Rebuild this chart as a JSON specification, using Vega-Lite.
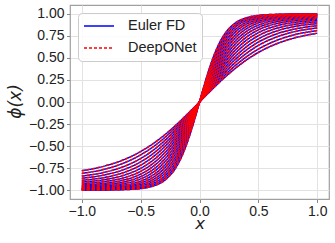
{
  "$schema": "https://vega.github.io/schema/vega-lite/v6.json",
  "width": 259,
  "height": 194,
  "autosize": {"type": "none"},
  "padding": {"left": 70, "top": 5, "right": 6, "bottom": 44},
  "background": "white",
  "config": {
    "view": {"stroke": "#a0a0a0", "strokeWidth": 1.2},
    "axis": {
      "domain": false,
      "grid": true,
      "gridColor": "#e2e2e2",
      "gridWidth": 1,
      "tickColor": "#888",
      "tickSize": 3.5,
      "labelFont": "Liberation Sans",
      "labelFontSize": 14,
      "labelColor": "#222",
      "titleFont": "DejaVu Sans",
      "titleFontStyle": "italic",
      "titleFontWeight": "normal",
      "titleFontSize": 17,
      "titleColor": "#222"
    },
    "legend": {
      "labelFont": "Liberation Sans",
      "labelFontSize": 14.5,
      "labelColor": "#222"
    }
  },
  "data": {"values": [
    {"c":0,"x":-1,"y":-0.78},{"c":0,"x":-0.8,"y":-0.724},{"c":0,"x":-0.65,"y":-0.658},{"c":0,"x":-0.5,"y":-0.562},{"c":0,"x":-0.4,"y":-0.478},{"c":0,"x":-0.3,"y":-0.377},{"c":0,"x":-0.2,"y":-0.262},{"c":0,"x":-0.15,"y":-0.199},{"c":0,"x":-0.1,"y":-0.134},{"c":0,"x":-0.05,"y":-0.068},{"c":0,"x":0,"y":0},{"c":0,"x":0.05,"y":0.068},{"c":0,"x":0.1,"y":0.134},{"c":0,"x":0.15,"y":0.199},{"c":0,"x":0.2,"y":0.262},{"c":0,"x":0.3,"y":0.377},{"c":0,"x":0.4,"y":0.478},{"c":0,"x":0.5,"y":0.562},{"c":0,"x":0.65,"y":0.658},{"c":0,"x":0.8,"y":0.724},{"c":0,"x":1,"y":0.78},
    {"c":1,"x":-1,"y":-0.81},{"c":1,"x":-0.8,"y":-0.76},{"c":1,"x":-0.65,"y":-0.696},{"c":1,"x":-0.5,"y":-0.6},{"c":1,"x":-0.4,"y":-0.514},{"c":1,"x":-0.3,"y":-0.409},{"c":1,"x":-0.2,"y":-0.285},{"c":1,"x":-0.15,"y":-0.217},{"c":1,"x":-0.1,"y":-0.147},{"c":1,"x":-0.05,"y":-0.074},{"c":1,"x":0,"y":0},{"c":1,"x":0.05,"y":0.074},{"c":1,"x":0.1,"y":0.147},{"c":1,"x":0.15,"y":0.217},{"c":1,"x":0.2,"y":0.285},{"c":1,"x":0.3,"y":0.409},{"c":1,"x":0.4,"y":0.514},{"c":1,"x":0.5,"y":0.6},{"c":1,"x":0.65,"y":0.696},{"c":1,"x":0.8,"y":0.76},{"c":1,"x":1,"y":0.81},
    {"c":2,"x":-1,"y":-0.84},{"c":2,"x":-0.8,"y":-0.795},{"c":2,"x":-0.65,"y":-0.735},{"c":2,"x":-0.5,"y":-0.641},{"c":2,"x":-0.4,"y":-0.553},{"c":2,"x":-0.3,"y":-0.443},{"c":2,"x":-0.2,"y":-0.311},{"c":2,"x":-0.15,"y":-0.237},{"c":2,"x":-0.1,"y":-0.161},{"c":2,"x":-0.05,"y":-0.081},{"c":2,"x":0,"y":0},{"c":2,"x":0.05,"y":0.081},{"c":2,"x":0.1,"y":0.161},{"c":2,"x":0.15,"y":0.237},{"c":2,"x":0.2,"y":0.311},{"c":2,"x":0.3,"y":0.443},{"c":2,"x":0.4,"y":0.553},{"c":2,"x":0.5,"y":0.641},{"c":2,"x":0.65,"y":0.735},{"c":2,"x":0.8,"y":0.795},{"c":2,"x":1,"y":0.84},
    {"c":3,"x":-1,"y":-0.865},{"c":3,"x":-0.8,"y":-0.825},{"c":3,"x":-0.65,"y":-0.77},{"c":3,"x":-0.5,"y":-0.679},{"c":3,"x":-0.4,"y":-0.591},{"c":3,"x":-0.3,"y":-0.477},{"c":3,"x":-0.2,"y":-0.337},{"c":3,"x":-0.15,"y":-0.258},{"c":3,"x":-0.1,"y":-0.175},{"c":3,"x":-0.05,"y":-0.088},{"c":3,"x":0,"y":0},{"c":3,"x":0.05,"y":0.088},{"c":3,"x":0.1,"y":0.175},{"c":3,"x":0.15,"y":0.258},{"c":3,"x":0.2,"y":0.337},{"c":3,"x":0.3,"y":0.477},{"c":3,"x":0.4,"y":0.591},{"c":3,"x":0.5,"y":0.679},{"c":3,"x":0.65,"y":0.77},{"c":3,"x":0.8,"y":0.825},{"c":3,"x":1,"y":0.865},
    {"c":4,"x":-1,"y":-0.888},{"c":4,"x":-0.8,"y":-0.854},{"c":4,"x":-0.65,"y":-0.803},{"c":4,"x":-0.5,"y":-0.716},{"c":4,"x":-0.4,"y":-0.628},{"c":4,"x":-0.3,"y":-0.511},{"c":4,"x":-0.2,"y":-0.364},{"c":4,"x":-0.15,"y":-0.28},{"c":4,"x":-0.1,"y":-0.19},{"c":4,"x":-0.05,"y":-0.096},{"c":4,"x":0,"y":0},{"c":4,"x":0.05,"y":0.096},{"c":4,"x":0.1,"y":0.19},{"c":4,"x":0.15,"y":0.28},{"c":4,"x":0.2,"y":0.364},{"c":4,"x":0.3,"y":0.511},{"c":4,"x":0.4,"y":0.628},{"c":4,"x":0.5,"y":0.716},{"c":4,"x":0.65,"y":0.803},{"c":4,"x":0.8,"y":0.854},{"c":4,"x":1,"y":0.888},
    {"c":5,"x":-1,"y":-0.908},{"c":5,"x":-0.8,"y":-0.879},{"c":5,"x":-0.65,"y":-0.834},{"c":5,"x":-0.5,"y":-0.752},{"c":5,"x":-0.4,"y":-0.666},{"c":5,"x":-0.3,"y":-0.547},{"c":5,"x":-0.2,"y":-0.393},{"c":5,"x":-0.15,"y":-0.303},{"c":5,"x":-0.1,"y":-0.206},{"c":5,"x":-0.05,"y":-0.104},{"c":5,"x":0,"y":0},{"c":5,"x":0.05,"y":0.104},{"c":5,"x":0.1,"y":0.206},{"c":5,"x":0.15,"y":0.303},{"c":5,"x":0.2,"y":0.393},{"c":5,"x":0.3,"y":0.547},{"c":5,"x":0.4,"y":0.666},{"c":5,"x":0.5,"y":0.752},{"c":5,"x":0.65,"y":0.834},{"c":5,"x":0.8,"y":0.879},{"c":5,"x":1,"y":0.908},
    {"c":6,"x":-1,"y":-0.925},{"c":6,"x":-0.8,"y":-0.901},{"c":6,"x":-0.65,"y":-0.862},{"c":6,"x":-0.5,"y":-0.786},{"c":6,"x":-0.4,"y":-0.702},{"c":6,"x":-0.3,"y":-0.582},{"c":6,"x":-0.2,"y":-0.422},{"c":6,"x":-0.15,"y":-0.326},{"c":6,"x":-0.1,"y":-0.223},{"c":6,"x":-0.05,"y":-0.113},{"c":6,"x":0,"y":0},{"c":6,"x":0.05,"y":0.113},{"c":6,"x":0.1,"y":0.223},{"c":6,"x":0.15,"y":0.326},{"c":6,"x":0.2,"y":0.422},{"c":6,"x":0.3,"y":0.582},{"c":6,"x":0.4,"y":0.702},{"c":6,"x":0.5,"y":0.786},{"c":6,"x":0.65,"y":0.862},{"c":6,"x":0.8,"y":0.901},{"c":6,"x":1,"y":0.925},
    {"c":7,"x":-1,"y":-0.94},{"c":7,"x":-0.8,"y":-0.921},{"c":7,"x":-0.65,"y":-0.887},{"c":7,"x":-0.5,"y":-0.818},{"c":7,"x":-0.4,"y":-0.737},{"c":7,"x":-0.3,"y":-0.618},{"c":7,"x":-0.2,"y":-0.452},{"c":7,"x":-0.15,"y":-0.351},{"c":7,"x":-0.1,"y":-0.241},{"c":7,"x":-0.05,"y":-0.122},{"c":7,"x":0,"y":0},{"c":7,"x":0.05,"y":0.122},{"c":7,"x":0.1,"y":0.241},{"c":7,"x":0.15,"y":0.351},{"c":7,"x":0.2,"y":0.452},{"c":7,"x":0.3,"y":0.618},{"c":7,"x":0.4,"y":0.737},{"c":7,"x":0.5,"y":0.818},{"c":7,"x":0.65,"y":0.887},{"c":7,"x":0.8,"y":0.921},{"c":7,"x":1,"y":0.94},
    {"c":8,"x":-1,"y":-0.952},{"c":8,"x":-0.8,"y":-0.937},{"c":8,"x":-0.65,"y":-0.909},{"c":8,"x":-0.5,"y":-0.846},{"c":8,"x":-0.4,"y":-0.771},{"c":8,"x":-0.3,"y":-0.654},{"c":8,"x":-0.2,"y":-0.483},{"c":8,"x":-0.15,"y":-0.377},{"c":8,"x":-0.1,"y":-0.259},{"c":8,"x":-0.05,"y":-0.132},{"c":8,"x":0,"y":0},{"c":8,"x":0.05,"y":0.132},{"c":8,"x":0.1,"y":0.259},{"c":8,"x":0.15,"y":0.377},{"c":8,"x":0.2,"y":0.483},{"c":8,"x":0.3,"y":0.654},{"c":8,"x":0.4,"y":0.771},{"c":8,"x":0.5,"y":0.846},{"c":8,"x":0.65,"y":0.909},{"c":8,"x":0.8,"y":0.937},{"c":8,"x":1,"y":0.952},
    {"c":9,"x":-1,"y":-0.962},{"c":9,"x":-0.8,"y":-0.951},{"c":9,"x":-0.65,"y":-0.927},{"c":9,"x":-0.5,"y":-0.872},{"c":9,"x":-0.4,"y":-0.802},{"c":9,"x":-0.3,"y":-0.688},{"c":9,"x":-0.2,"y":-0.515},{"c":9,"x":-0.15,"y":-0.404},{"c":9,"x":-0.1,"y":-0.279},{"c":9,"x":-0.05,"y":-0.143},{"c":9,"x":0,"y":0},{"c":9,"x":0.05,"y":0.143},{"c":9,"x":0.1,"y":0.279},{"c":9,"x":0.15,"y":0.404},{"c":9,"x":0.2,"y":0.515},{"c":9,"x":0.3,"y":0.688},{"c":9,"x":0.4,"y":0.802},{"c":9,"x":0.5,"y":0.872},{"c":9,"x":0.65,"y":0.927},{"c":9,"x":0.8,"y":0.951},{"c":9,"x":1,"y":0.962},
    {"c":10,"x":-1,"y":-0.971},{"c":10,"x":-0.8,"y":-0.962},{"c":10,"x":-0.65,"y":-0.944},{"c":10,"x":-0.5,"y":-0.897},{"c":10,"x":-0.4,"y":-0.832},{"c":10,"x":-0.3,"y":-0.723},{"c":10,"x":-0.2,"y":-0.548},{"c":10,"x":-0.15,"y":-0.432},{"c":10,"x":-0.1,"y":-0.3},{"c":10,"x":-0.05,"y":-0.154},{"c":10,"x":0,"y":0},{"c":10,"x":0.05,"y":0.154},{"c":10,"x":0.1,"y":0.3},{"c":10,"x":0.15,"y":0.432},{"c":10,"x":0.2,"y":0.548},{"c":10,"x":0.3,"y":0.723},{"c":10,"x":0.4,"y":0.832},{"c":10,"x":0.5,"y":0.897},{"c":10,"x":0.65,"y":0.944},{"c":10,"x":0.8,"y":0.962},{"c":10,"x":1,"y":0.971},
    {"c":11,"x":-1,"y":-0.978},{"c":11,"x":-0.8,"y":-0.972},{"c":11,"x":-0.65,"y":-0.957},{"c":11,"x":-0.5,"y":-0.917},{"c":11,"x":-0.4,"y":-0.859},{"c":11,"x":-0.3,"y":-0.755},{"c":11,"x":-0.2,"y":-0.58},{"c":11,"x":-0.15,"y":-0.461},{"c":11,"x":-0.1,"y":-0.321},{"c":11,"x":-0.05,"y":-0.165},{"c":11,"x":0,"y":0},{"c":11,"x":0.05,"y":0.165},{"c":11,"x":0.1,"y":0.321},{"c":11,"x":0.15,"y":0.461},{"c":11,"x":0.2,"y":0.58},{"c":11,"x":0.3,"y":0.755},{"c":11,"x":0.4,"y":0.859},{"c":11,"x":0.5,"y":0.917},{"c":11,"x":0.65,"y":0.957},{"c":11,"x":0.8,"y":0.972},{"c":11,"x":1,"y":0.978},
    {"c":12,"x":-1,"y":-0.984},{"c":12,"x":-0.8,"y":-0.98},{"c":12,"x":-0.65,"y":-0.968},{"c":12,"x":-0.5,"y":-0.935},{"c":12,"x":-0.4,"y":-0.884},{"c":12,"x":-0.3,"y":-0.787},{"c":12,"x":-0.2,"y":-0.614},{"c":12,"x":-0.15,"y":-0.491},{"c":12,"x":-0.1,"y":-0.344},{"c":12,"x":-0.05,"y":-0.178},{"c":12,"x":0,"y":0},{"c":12,"x":0.05,"y":0.178},{"c":12,"x":0.1,"y":0.344},{"c":12,"x":0.15,"y":0.491},{"c":12,"x":0.2,"y":0.614},{"c":12,"x":0.3,"y":0.787},{"c":12,"x":0.4,"y":0.884},{"c":12,"x":0.5,"y":0.935},{"c":12,"x":0.65,"y":0.968},{"c":12,"x":0.8,"y":0.98},{"c":12,"x":1,"y":0.984},
    {"c":13,"x":-1,"y":-0.989},{"c":13,"x":-0.8,"y":-0.986},{"c":13,"x":-0.65,"y":-0.978},{"c":13,"x":-0.5,"y":-0.951},{"c":13,"x":-0.4,"y":-0.906},{"c":13,"x":-0.3,"y":-0.816},{"c":13,"x":-0.2,"y":-0.647},{"c":13,"x":-0.15,"y":-0.522},{"c":13,"x":-0.1,"y":-0.368},{"c":13,"x":-0.05,"y":-0.191},{"c":13,"x":0,"y":0},{"c":13,"x":0.05,"y":0.191},{"c":13,"x":0.1,"y":0.368},{"c":13,"x":0.15,"y":0.522},{"c":13,"x":0.2,"y":0.647},{"c":13,"x":0.3,"y":0.816},{"c":13,"x":0.4,"y":0.906},{"c":13,"x":0.5,"y":0.951},{"c":13,"x":0.65,"y":0.978},{"c":13,"x":0.8,"y":0.986},{"c":13,"x":1,"y":0.989},
    {"c":14,"x":-1,"y":-0.993},{"c":14,"x":-0.8,"y":-0.991},{"c":14,"x":-0.65,"y":-0.985},{"c":14,"x":-0.5,"y":-0.964},{"c":14,"x":-0.4,"y":-0.926},{"c":14,"x":-0.3,"y":-0.845},{"c":14,"x":-0.2,"y":-0.68},{"c":14,"x":-0.15,"y":-0.553},{"c":14,"x":-0.1,"y":-0.393},{"c":14,"x":-0.05,"y":-0.205},{"c":14,"x":0,"y":0},{"c":14,"x":0.05,"y":0.205},{"c":14,"x":0.1,"y":0.393},{"c":14,"x":0.15,"y":0.553},{"c":14,"x":0.2,"y":0.68},{"c":14,"x":0.3,"y":0.845},{"c":14,"x":0.4,"y":0.926},{"c":14,"x":0.5,"y":0.964},{"c":14,"x":0.65,"y":0.985},{"c":14,"x":0.8,"y":0.991},{"c":14,"x":1,"y":0.993},
    {"c":15,"x":-1,"y":-0.996},{"c":15,"x":-0.8,"y":-0.995},{"c":15,"x":-0.65,"y":-0.99},{"c":15,"x":-0.5,"y":-0.974},{"c":15,"x":-0.4,"y":-0.943},{"c":15,"x":-0.3,"y":-0.869},{"c":15,"x":-0.2,"y":-0.712},{"c":15,"x":-0.15,"y":-0.584},{"c":15,"x":-0.1,"y":-0.419},{"c":15,"x":-0.05,"y":-0.22},{"c":15,"x":0,"y":0},{"c":15,"x":0.05,"y":0.22},{"c":15,"x":0.1,"y":0.419},{"c":15,"x":0.15,"y":0.584},{"c":15,"x":0.2,"y":0.712},{"c":15,"x":0.3,"y":0.869},{"c":15,"x":0.4,"y":0.943},{"c":15,"x":0.5,"y":0.974},{"c":15,"x":0.65,"y":0.99},{"c":15,"x":0.8,"y":0.995},{"c":15,"x":1,"y":0.996},
    {"c":16,"x":-1,"y":-0.998},{"c":16,"x":-0.8,"y":-0.997},{"c":16,"x":-0.65,"y":-0.994},{"c":16,"x":-0.5,"y":-0.982},{"c":16,"x":-0.4,"y":-0.956},{"c":16,"x":-0.3,"y":-0.892},{"c":16,"x":-0.2,"y":-0.743},{"c":16,"x":-0.15,"y":-0.616},{"c":16,"x":-0.1,"y":-0.445},{"c":16,"x":-0.05,"y":-0.235},{"c":16,"x":0,"y":0},{"c":16,"x":0.05,"y":0.235},{"c":16,"x":0.1,"y":0.445},{"c":16,"x":0.15,"y":0.616},{"c":16,"x":0.2,"y":0.743},{"c":16,"x":0.3,"y":0.892},{"c":16,"x":0.4,"y":0.956},{"c":16,"x":0.5,"y":0.982},{"c":16,"x":0.65,"y":0.994},{"c":16,"x":0.8,"y":0.997},{"c":16,"x":1,"y":0.998}
  ]},
  "encoding": {
    "x": {
      "field": "x", "type": "quantitative",
      "scale": {"domain": [-1.1, 1.1], "nice": false, "zero": false},
      "axis": {
        "values": [-1, -0.5, 0, 0.5, 1], "format": ".1f",
        "labelPadding": 2,
        "title": "x", "titleY": 29, "titleFontSize": 16.5, "titleBaseline": "alphabetic"
      }
    },
    "y": {
      "field": "y", "type": "quantitative",
      "scale": {"domain": [-1.1, 1.1], "nice": false, "zero": false},
      "axis": {
        "values": [-1, -0.75, -0.5, -0.25, 0, 0.25, 0.5, 0.75, 1], "format": ".2f",
        "labelPadding": 2.5,
        "title": "ϕ(x)", "titleX": -50, "titleY": 96, "titleAngle": -90,
        "titleAlign": "center", "titleBaseline": "alphabetic"
      }
    },
    "detail": {"field": "c", "type": "nominal"}
  },
  "layer": [
    {
      "mark": {"type": "line", "interpolate": "monotone", "strokeWidth": 1.5},
      "encoding": {
        "color": {"datum": "Euler FD", "type": "nominal",
          "scale": {"domain": ["Euler FD", "DeepONet"], "range": ["#0000ff", "#ff0000"]},
          "legend": {
            "title": null, "orient": "none", "legendX": 8, "legendY": 8,
            "symbolType": "stroke", "symbolSize": 900, "symbolStrokeWidth": 1.5,
            "clipHeight": 16, "rowPadding": 6, "labelOffset": 13, "padding": 5,
            "fillColor": "rgba(255,255,255,0.85)", "strokeColor": "#cccccc", "cornerRadius": 4
          }
        },
        "strokeDash": {"datum": "Euler FD", "type": "nominal",
          "scale": {"domain": ["Euler FD", "DeepONet"], "range": [[1, 0], [3, 2]]},
          "legend": {
            "title": null, "orient": "none", "legendX": 8, "legendY": 8,
            "symbolType": "stroke", "symbolSize": 900, "symbolStrokeWidth": 1.5,
            "clipHeight": 16, "rowPadding": 6, "labelOffset": 13, "padding": 5,
            "fillColor": "rgba(255,255,255,0.85)", "strokeColor": "#cccccc", "cornerRadius": 4
          }
        }
      }
    },
    {
      "mark": {"type": "line", "interpolate": "monotone", "strokeWidth": 1.5},
      "encoding": {
        "color": {"datum": "DeepONet", "type": "nominal"},
        "strokeDash": {"datum": "DeepONet", "type": "nominal"}
      }
    }
  ]
}
